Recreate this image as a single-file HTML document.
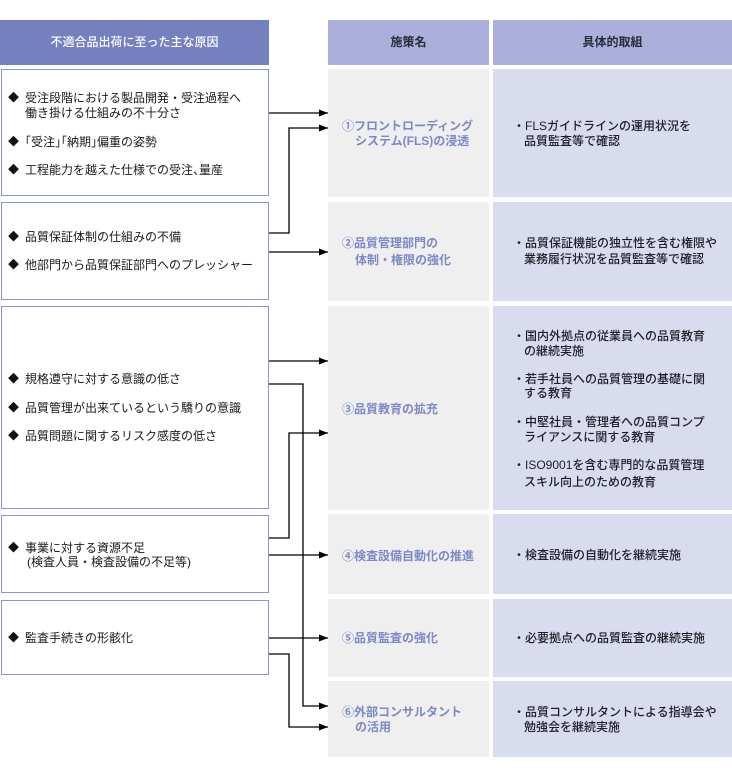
<!DOCTYPE html>
<html lang="ja">
<head>
<meta charset="utf-8">
<style>
  html,body{margin:0;padding:0;background:#fff;}
  body{width:732px;height:775px;position:relative;overflow:hidden;
       font-family:"Liberation Sans","Noto Sans CJK JP",sans-serif;}
  .abs{position:absolute;}
  .hdrL{left:0;top:20px;width:269px;height:45px;background:#7580bf;color:#fff;
        font-size:12px;line-height:45px;text-align:center;font-weight:500;}
  .hdrM{left:328px;top:20px;width:161px;height:45px;background:#aab0da;color:#2a2a3a;
        font-size:12px;line-height:45px;text-align:center;font-weight:700;}
  .hdrR{left:493px;top:20px;width:239px;height:45px;background:#aab0da;color:#2a2a3a;
        font-size:12px;line-height:45px;text-align:center;font-weight:700;}
  .boxL{left:1px;width:266px;border:1.5px solid #8c94c8;background:#fff;}
  .boxM{left:328px;width:161px;background:#efefef;}
  .boxR{left:493px;width:239px;background:#d9dcef;}
  .t{position:absolute;font-size:12px;line-height:16px;white-space:nowrap;}
  .tl{color:#1a1a1a;}
  .tm{color:#7d88c6;font-weight:700;}
  .tr{color:#1f1f2a;font-weight:500;}
  .dia{position:absolute;font-size:11px;line-height:16px;color:#111;left:8px;}
  .n{letter-spacing:-6px;}
</style>
</head>
<body>
<!-- headers -->
<div class="abs hdrL">不適合品出荷に至った主な原因</div>
<div class="abs hdrM">施策名</div>
<div class="abs hdrR">具体的取組</div>

<!-- left boxes -->
<div class="abs boxL" style="top:69px;height:125px;"></div>
<div class="abs boxL" style="top:202px;height:96px;"></div>
<div class="abs boxL" style="top:306px;height:201px;"></div>
<div class="abs boxL" style="top:515px;height:76px;"></div>
<div class="abs boxL" style="top:600px;height:73px;"></div>

<!-- middle boxes -->
<div class="abs boxM" style="top:69px;height:128px;"></div>
<div class="abs boxM" style="top:202px;height:99px;"></div>
<div class="abs boxM" style="top:306px;height:204px;"></div>
<div class="abs boxM" style="top:514px;height:80px;"></div>
<div class="abs boxM" style="top:599px;height:78px;"></div>
<div class="abs boxM" style="top:681px;height:76px;"></div>

<!-- right boxes -->
<div class="abs boxR" style="top:69px;height:128px;"></div>
<div class="abs boxR" style="top:202px;height:99px;"></div>
<div class="abs boxR" style="top:306px;height:204px;"></div>
<div class="abs boxR" style="top:514px;height:80px;"></div>
<div class="abs boxR" style="top:599px;height:78px;"></div>
<div class="abs boxR" style="top:681px;height:76px;"></div>

<!-- left texts -->
<div class="dia" style="top:90px;">◆</div>
<div class="t tl" style="left:25px;top:90px;">受注段階における製品開発・受注過程へ</div>
<div class="t tl" style="left:25px;top:105px;">働き掛ける仕組みの不十分さ</div>
<div class="dia" style="top:134px;">◆</div>
<div class="t tl" style="left:25px;top:134px;">｢受注｣｢納期｣偏重の姿勢</div>
<div class="dia" style="top:162px;">◆</div>
<div class="t tl" style="left:25px;top:162px;">工程能力を越えた仕様での受注<span class="n">、</span>量産</div>

<div class="dia" style="top:229px;">◆</div>
<div class="t tl" style="left:25px;top:229px;">品質保証体制の仕組みの不備</div>
<div class="dia" style="top:257px;">◆</div>
<div class="t tl" style="left:25px;top:257px;">他部門から品質保証部門へのプレッシャー</div>

<div class="dia" style="top:371px;">◆</div>
<div class="t tl" style="left:25px;top:371px;">規格遵守に対する意識の低さ</div>
<div class="dia" style="top:400px;">◆</div>
<div class="t tl" style="left:25px;top:400px;">品質管理が出来ているという驕りの意識</div>
<div class="dia" style="top:428px;">◆</div>
<div class="t tl" style="left:25px;top:428px;">品質問題に関するリスク感度の低さ</div>

<div class="dia" style="top:540px;">◆</div>
<div class="t tl" style="left:25px;top:540px;">事業に対する資源不足</div>
<div class="t tl" style="left:27px;top:554px;">(検査人員・検査設備の不足等)</div>

<div class="dia" style="top:630px;">◆</div>
<div class="t tl" style="left:25px;top:630px;">監査手続きの形骸化</div>

<!-- middle texts -->
<div class="t tm" style="left:342px;top:118px;">①フロントローディング</div>
<div class="t tm" style="left:355px;top:133px;">システム(FLS)の浸透</div>
<div class="t tm" style="left:342px;top:235px;">②品質管理部門の</div>
<div class="t tm" style="left:355px;top:252px;">体制・権限の強化</div>
<div class="t tm" style="left:342px;top:401px;">③品質教育の拡充</div>
<div class="t tm" style="left:342px;top:548px;">④検査設備自動化の推進</div>
<div class="t tm" style="left:342px;top:630px;">⑤品質監査の強化</div>
<div class="t tm" style="left:342px;top:704px;">⑥外部コンサルタント</div>
<div class="t tm" style="left:355px;top:719px;">の活用</div>

<!-- right texts -->
<div class="t tr" style="left:513px;top:118px;">・FLSガイドラインの運用状況を</div>
<div class="t tr" style="left:524px;top:133px;">品質監査等で確認</div>
<div class="t tr" style="left:513px;top:235px;">・品質保証機能の独立性を含む権限や</div>
<div class="t tr" style="left:524px;top:251px;">業務履行状況を品質監査等で確認</div>
<div class="t tr" style="left:513px;top:328px;">・国内外拠点の従業員への品質教育</div>
<div class="t tr" style="left:524px;top:343px;">の継続実施</div>
<div class="t tr" style="left:513px;top:371px;">・若手社員への品質管理の基礎に関</div>
<div class="t tr" style="left:524px;top:385px;">する教育</div>
<div class="t tr" style="left:513px;top:414px;">・中堅社員・管理者への品質コンプ</div>
<div class="t tr" style="left:524px;top:429px;">ライアンスに関する教育</div>
<div class="t tr" style="left:513px;top:457px;">・ISO9001を含む専門的な品質管理</div>
<div class="t tr" style="left:524px;top:474px;">スキル向上のための教育</div>
<div class="t tr" style="left:513px;top:547px;">・検査設備の自動化を継続実施</div>
<div class="t tr" style="left:513px;top:630px;">・必要拠点への品質監査の継続実施</div>
<div class="t tr" style="left:513px;top:704px;">・品質コンサルタントによる指導会や</div>
<div class="t tr" style="left:524px;top:719px;">勉強会を継続実施</div>

<!-- connectors -->
<svg class="abs" style="left:0;top:0;" width="732" height="775" viewBox="0 0 732 775">
  <defs>
    <marker id="ah" markerWidth="10" markerHeight="8" refX="9" refY="3.5" orient="auto" markerUnits="userSpaceOnUse">
      <path d="M0,0 L9,3.5 L0,7 Z" fill="#000"/>
    </marker>
  </defs>
  <g stroke="#000" stroke-width="1.3" fill="none">
    <polyline points="269,113 328,113" marker-end="url(#ah)"/>
    <polyline points="269,233 289,233 289,128 328,128" marker-end="url(#ah)"/>
    <polyline points="269,252 328,252" marker-end="url(#ah)"/>
    <polyline points="269,361 328,361" marker-end="url(#ah)"/>
    <polyline points="269,384 303,384 303,706 328,706" marker-end="url(#ah)"/>
    <polyline points="269,538 289,538 289,433 328,433" marker-end="url(#ah)"/>
    <polyline points="269,555 328,555" marker-end="url(#ah)"/>
    <polyline points="269,638 328,638" marker-end="url(#ah)"/>
    <polyline points="269,654 289,654 289,727 328,727" marker-end="url(#ah)"/>
  </g>
</svg>
</body>
</html>
